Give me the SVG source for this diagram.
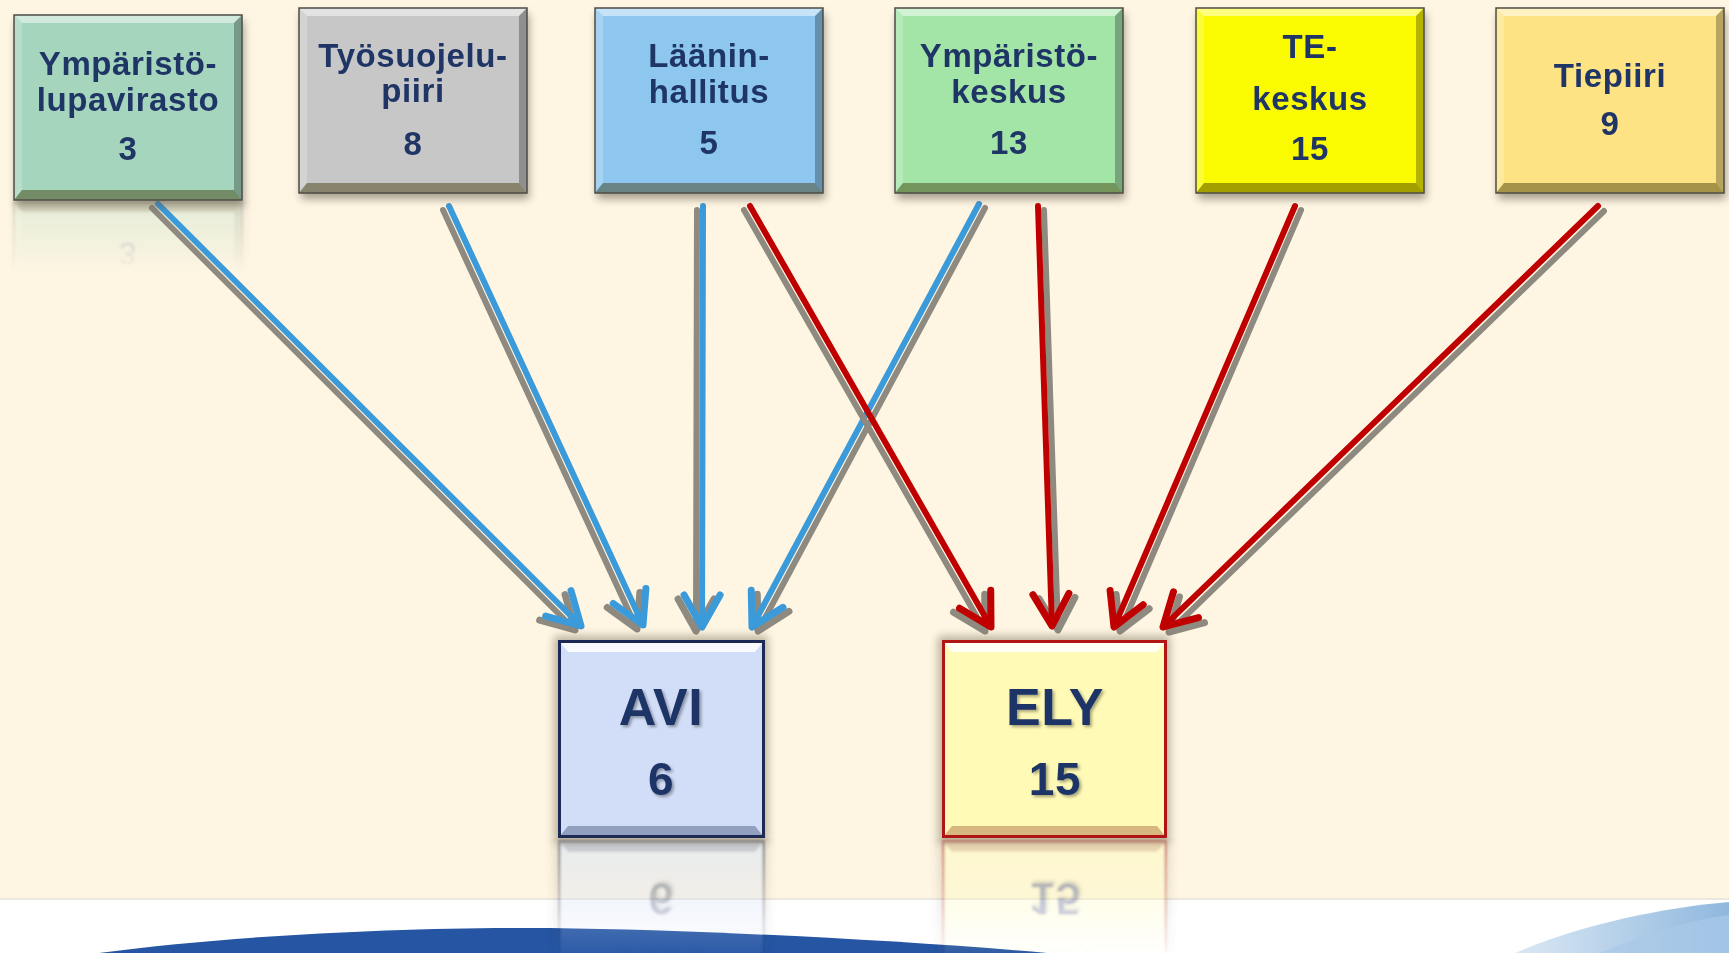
<svg xmlns="http://www.w3.org/2000/svg" xmlns:xlink="http://www.w3.org/1999/xlink" width="1729" height="953" viewBox="0 0 1729 953">
<style>
.t{font-family:"Liberation Sans",Arial,sans-serif;font-weight:bold;font-size:33px;fill:#1f3566;text-anchor:middle;letter-spacing:0.6px}
.big{font-size:52px;filter:url(#tsh)}
.bnum{font-size:46px;filter:url(#tsh)}
.ln{fill:none;stroke-width:6;stroke-linecap:round}
.bl{stroke:#3b9ad9;marker-end:url(#mB)}
.rd{stroke:#c00000;marker-end:url(#mR)}
.sh{stroke:#8f8a80;marker-end:url(#mG)}
.bshadow{fill:#5e5546;opacity:.55;filter:url(#blur)}
.edge{fill:none;stroke:#4e4c44;stroke-width:1.5}
</style>
<defs>
<filter id="blur" x="-20%" y="-20%" width="140%" height="140%"><feGaussianBlur stdDeviation="4"/></filter>
<filter id="soft" x="-10%" y="-10%" width="120%" height="120%"><feGaussianBlur stdDeviation="1.2"/></filter>
<filter id="tsh" x="-20%" y="-20%" width="140%" height="140%"><feDropShadow dx="2" dy="2" stdDeviation="1.5" flood-color="#000" flood-opacity="0.35"/></filter>
<marker id="mB" markerUnits="userSpaceOnUse" orient="auto" markerWidth="80" markerHeight="80" viewBox="-40 -40 80 80" refX="0" refY="0"><path d="M-32,-18 L0,0 L-32,18" fill="none" stroke="#3b9ad9" stroke-width="7" stroke-linecap="round" stroke-linejoin="round"/></marker>
<marker id="mR" markerUnits="userSpaceOnUse" orient="auto" markerWidth="80" markerHeight="80" viewBox="-40 -40 80 80" refX="0" refY="0"><path d="M-32,-18 L0,0 L-32,18" fill="none" stroke="#c00000" stroke-width="7" stroke-linecap="round" stroke-linejoin="round"/></marker>
<marker id="mG" markerUnits="userSpaceOnUse" orient="auto" markerWidth="80" markerHeight="80" viewBox="-40 -40 80 80" refX="0" refY="0"><path d="M-32,-18 L0,0 L-32,18" fill="none" stroke="#8f8a80" stroke-width="7" stroke-linecap="round" stroke-linejoin="round"/></marker>
<g id="bevel">
<polygon points="0,0 228,0 220,8 8,8" fill="#fff" opacity=".5"/>
<polygon points="0,0 8,8 8,175 0,185" fill="#fff" opacity=".22"/>
<polygon points="228,0 228,185 220,175 220,8" fill="#000" opacity=".28"/>
<polygon points="0,185 8,175 220,175 228,185" fill="#3a3000" opacity=".45"/>
<rect width="228" height="185" class="edge"/>
</g>
<linearGradient id="fadeA" x1="0" y1="0" x2="0" y2="1"><stop offset="0" stop-color="#fff" stop-opacity=".5"/><stop offset="0.6" stop-color="#fff" stop-opacity=".25"/><stop offset="1" stop-color="#fff" stop-opacity="0.05"/></linearGradient>
<linearGradient id="fadeB" x1="0" y1="0" x2="0" y2="1"><stop offset="0" stop-color="#fff" stop-opacity=".3"/><stop offset="1" stop-color="#fff" stop-opacity="0"/></linearGradient>
<mask id="mAE" maskUnits="userSpaceOnUse" x="0" y="838" width="1729" height="115"><rect x="0" y="838" width="1729" height="115" fill="url(#fadeA)"/></mask>
<mask id="m1" maskUnits="userSpaceOnUse" x="0" y="200" width="300" height="80"><rect x="0" y="200" width="300" height="75" fill="url(#fadeB)"/></mask>
<linearGradient id="swoosh" x1="0" y1="0" x2="1" y2="0"><stop offset="0" stop-color="#dbe8f4"/><stop offset="1" stop-color="#8fb8de"/></linearGradient>
</defs>

<rect width="1729" height="953" fill="#fef6e3"/>
<rect y="899" width="1729" height="54" fill="#ffffff"/>
<line x1="0" y1="899" x2="1729" y2="899" stroke="#e6e2da" stroke-width="1.5"/>
<path d="M99,953 C240,934 420,927 550,928 C700,930 900,940 1047,953 Z" fill="#2555a3"/>
<path d="M1515,953 C1580,925 1660,908 1729,902 L1729,953 Z" fill="url(#swoosh)"/>
<path d="M1600,953 C1640,935 1690,920 1729,915 L1729,953 Z" fill="#a9c9e8" opacity=".7"/>

<g id="reflections" filter="url(#soft)">
<g mask="url(#m1)"><use xlink:href="#n1" transform="translate(0,402) scale(1,-1)"/></g>
<g mask="url(#mAE)"><use xlink:href="#avi" transform="translate(0,1678) scale(1,-1)"/><use xlink:href="#ely" transform="translate(0,1678) scale(1,-1)"/></g>
</g>

<g id="connectors">
<path class="ln sh" d="M152,208 L575,630"/>
<path class="ln sh" d="M443,210 L637,629"/>
<path class="ln sh" d="M697,210 L696,631"/>
<path class="ln sh" d="M985,208 L758,631"/>
<path class="ln bl" d="M158,204 L581,626"/>
<path class="ln bl" d="M449,206 L643,625"/>
<path class="ln bl" d="M703,206 L702,627"/>
<path class="ln bl" d="M979,204 L752,627"/>
<path class="ln sh" d="M744,210 L985,631"/>
<path class="ln sh" d="M1044,210 L1058,630"/>
<path class="ln sh" d="M1301,210 L1120,631"/>
<path class="ln sh" d="M1604,211 L1169,632"/>
<path class="ln rd" d="M750,206 L991,627"/>
<path class="ln rd" d="M1038,206 L1052,626"/>
<path class="ln rd" d="M1295,206 L1114,627"/>
<path class="ln rd" d="M1598,206 L1163,627"/>
</g>

<g id="n1" transform="translate(14,15)">
<rect class="bshadow" x="2" y="6" width="228" height="185"/>
<rect width="228" height="185" fill="#a5d5bd"/>
<use xlink:href="#bevel"/>
<text class="t" x="114" y="60">Ympäristö-</text>
<text class="t" x="114" y="96">lupavirasto</text>
<text class="t" x="114" y="145">3</text>
</g>
<g id="n2" transform="translate(299,8)">
<rect class="bshadow" x="2" y="6" width="228" height="185"/>
<rect width="228" height="185" fill="#c7c7c7"/>
<use xlink:href="#bevel"/>
<text class="t" x="114" y="59">Työsuojelu-</text>
<text class="t" x="114" y="94">piiri</text>
<text class="t" x="114" y="147">8</text>
</g>
<g id="n3" transform="translate(595,8)">
<rect class="bshadow" x="2" y="6" width="228" height="185"/>
<rect width="228" height="185" fill="#8dc7ef"/>
<use xlink:href="#bevel"/>
<text class="t" x="114" y="59">Läänin-</text>
<text class="t" x="114" y="95">hallitus</text>
<text class="t" x="114" y="146">5</text>
</g>
<g id="n4" transform="translate(895,8)">
<rect class="bshadow" x="2" y="6" width="228" height="185"/>
<rect width="228" height="185" fill="#a2e5a7"/>
<use xlink:href="#bevel"/>
<text class="t" x="114" y="59">Ympäristö-</text>
<text class="t" x="114" y="95">keskus</text>
<text class="t" x="114" y="146">13</text>
</g>
<g id="n5" transform="translate(1196,8)">
<rect class="bshadow" x="2" y="6" width="228" height="185"/>
<rect width="228" height="185" fill="#fafa00"/>
<use xlink:href="#bevel"/>
<text class="t" x="114" y="50">TE-</text>
<text class="t" x="114" y="102">keskus</text>
<text class="t" x="114" y="152">15</text>
</g>
<g id="n6" transform="translate(1496,8)">
<rect class="bshadow" x="2" y="6" width="228" height="185"/>
<rect width="228" height="185" fill="#fde384"/>
<use xlink:href="#bevel"/>
<text class="t" x="114" y="79">Tiepiiri</text>
<text class="t" x="114" y="127">9</text>
</g>

<g id="avi">
<rect x="554" y="636" width="214" height="206" fill="#6b6048" opacity=".45" filter="url(#blur)"/>
<rect x="558" y="640" width="207" height="198" fill="#d2def8"/>
<polygon points="560,642 763,642 755,652 568,652" fill="#fff" opacity=".85"/>
<polygon points="560,836 568,826 755,826 763,836" fill="#1c2a55" opacity=".35"/>
<rect x="559.5" y="641.5" width="204" height="195" fill="none" stroke="#1c2a55" stroke-width="3"/>
<text class="t big" x="661" y="725">AVI</text>
<text class="t bnum" x="661" y="795">6</text>
</g>
<g id="ely">
<rect x="938" y="636" width="232" height="206" fill="#6b6048" opacity=".45" filter="url(#blur)"/>
<rect x="942" y="640" width="225" height="198" fill="#fffab6"/>
<polygon points="944,642 1165,642 1157,652 952,652" fill="#fff" opacity=".85"/>
<polygon points="944,836 952,826 1157,826 1165,836" fill="#7a1a00" opacity=".3"/>
<rect x="943.5" y="641.5" width="222" height="195" fill="none" stroke="#b01414" stroke-width="3"/>
<text class="t big" x="1055" y="725">ELY</text>
<text class="t bnum" x="1055" y="795">15</text>
</g>
</svg>
